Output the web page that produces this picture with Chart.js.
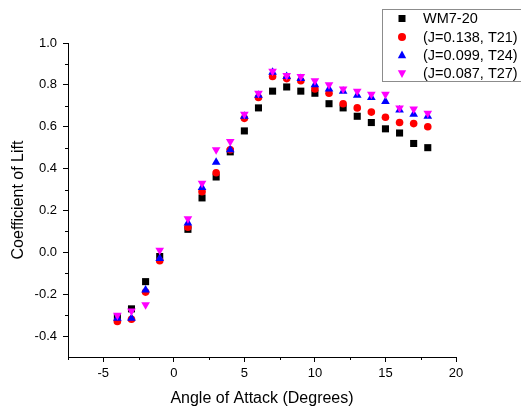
<!DOCTYPE html>
<html>
<head>
<meta charset="utf-8">
<script src="https://cdn.jsdelivr.net/npm/chart.js@4.4.0/dist/chart.umd.min.js"></script>
<style>
html, body { margin: 0; padding: 0; background: #fff; overflow: hidden; }
#wrap { width: 521px; height: 409px; }
</style>
</head>
<body>
<div id="wrap"><canvas id="liftChart" width="521" height="409"></canvas></div>
<script>
// angle of attack (degrees) - no point at 0
const angles = [-4, -3, -2, -1, 1, 2, 3, 4, 5, 6, 7, 8, 9, 10, 11, 12, 13, 14, 15, 16, 17, 18];

const wm720 = [-0.31, -0.27, -0.14, -0.02, 0.11, 0.26, 0.36, 0.48, 0.58, 0.69, 0.77, 0.79, 0.77, 0.76, 0.71, 0.69, 0.65, 0.62, 0.59, 0.57, 0.52, 0.50];
const t21 = [-0.33, -0.32, -0.19, -0.04, 0.12, 0.29, 0.38, 0.49, 0.64, 0.74, 0.84, 0.83, 0.82, 0.78, 0.76, 0.71, 0.69, 0.67, 0.645, 0.62, 0.615, 0.60];
const t24 = [-0.315, -0.315, -0.18, -0.03, 0.14, 0.31, 0.43, 0.49, 0.65, 0.75, 0.86, 0.84, 0.83, 0.80, 0.78, 0.77, 0.75, 0.74, 0.72, 0.68, 0.66, 0.65];
const t27 = [-0.30, -0.28, -0.25, 0.01, 0.16, 0.33, 0.49, 0.53, 0.66, 0.76, 0.865, 0.845, 0.84, 0.82, 0.80, 0.78, 0.77, 0.755, 0.755, 0.69, 0.685, 0.665];

const seriesNames = ['WM7-20', '(J=0.138, T21)', '(J=0.099, T24)', '(J=0.087, T27)'];

const xTicks = [-5, 0, 5, 10, 15, 20];
const xMinor = [-7.5, -2.5, 2.5, 7.5, 12.5, 17.5];
const yTicks = [-0.4, -0.2, 0.0, 0.2, 0.4, 0.6, 0.8, 1.0];
const yMinor = [-0.3, -0.1, 0.1, 0.3, 0.5, 0.7, 0.9];

const FONT = "'Liberation Sans', Arial, sans-serif";

function toPoints(vals) {
    return angles.map((a, i) => ({ x: a, y: vals[i] }));
}

// marker drawing for the legend box
function drawMarker(ctx, style, x, y, r, rot) {
    ctx.beginPath();
    if (style === 'rect') {
        ctx.rect(x - r, y - r, r * 2, r * 2);
    } else if (style === 'circle') {
        ctx.arc(x, y, r, 0, Math.PI * 2);
    } else {
        const s = rot ? -1 : 1;
        const h = r * 1.1;
        ctx.moveTo(x, y - s * h);
        ctx.lineTo(x + h * 0.95, y + s * h * 0.75);
        ctx.lineTo(x - h * 0.95, y + s * h * 0.75);
        ctx.closePath();
    }
    ctx.fill();
}

const minorTicks = {
    id: 'minorTicks',
    afterDraw(chart) {
        const { ctx, chartArea, scales: { x, y } } = chart;
        ctx.save();
        ctx.strokeStyle = '#000';
        ctx.lineWidth = 1;
        ctx.beginPath();
        xMinor.forEach(v => {
            const px = Math.round(x.getPixelForValue(v)) + 0.5;
            ctx.moveTo(px, chartArea.bottom);
            ctx.lineTo(px, chartArea.bottom + 3);
        });
        yMinor.forEach(v => {
            const py = Math.round(y.getPixelForValue(v)) + 0.5;
            ctx.moveTo(chartArea.left - 3, py);
            ctx.lineTo(chartArea.left, py);
        });
        ctx.stroke();
        ctx.restore();
    }
};

// legend box runs off the right edge, like the original
const boxLegend = {
    id: 'boxLegend',
    afterDraw(chart) {
        const ctx = chart.ctx;
        ctx.save();
        ctx.fillStyle = '#fff';
        ctx.fillRect(382, 9, 200, 73);
        ctx.strokeStyle = '#8c8c8c';
        ctx.lineWidth = 1;
        ctx.strokeRect(382.5, 9.5, 200, 72);
        const rows = [18.5, 37, 55, 73.5];
        const ds = chart.data.datasets;
        ctx.font = '14.5px ' + FONT;
        ctx.textBaseline = 'middle';
        ctx.textAlign = 'left';
        ds.forEach((d, i) => {
            ctx.fillStyle = d.backgroundColor;
            const r = d.pointStyle === 'rect' ? 3.5 : 4;
            drawMarker(ctx, d.pointStyle, 402, rows[i], r, d.pointRotation === 180);
            ctx.fillStyle = '#000';
            ctx.fillText(d.label, 423, rows[i] + 0.5);
        });
        ctx.restore();
    }
};

const liftCtx = document.getElementById('liftChart').getContext('2d');
const liftChart = new Chart(liftCtx, {
    type: 'scatter',
    data: {
        datasets: [{
            label: seriesNames[0],
            data: toPoints(wm720),
            backgroundColor: '#000000',
            pointStyle: 'rect',
            pointRadius: 5,
            pointBorderWidth: 0,
            order: 4
        }, {
            label: seriesNames[1],
            data: toPoints(t21),
            backgroundColor: '#ff0000',
            pointStyle: 'circle',
            pointRadius: 3.8,
            pointBorderWidth: 0,
            order: 3
        }, {
            label: seriesNames[2],
            data: toPoints(t24),
            backgroundColor: '#0000ff',
            pointStyle: 'triangle',
            pointRadius: 5,
            pointBorderWidth: 0,
            order: 2
        }, {
            label: seriesNames[3],
            data: toPoints(t27),
            backgroundColor: '#ff00ff',
            pointStyle: 'triangle',
            pointRotation: 180,
            pointRadius: 5,
            pointBorderWidth: 0,
            order: 1
        }]
    },
    options: {
        responsive: false,
        devicePixelRatio: 1,
        animation: false,
        layout: {
            padding: { left: 5, right: 65, top: 43, bottom: 0 }
        },
        plugins: {
            legend: { display: false },
            tooltip: { enabled: false }
        },
        scales: {
            x: {
                type: 'linear',
                min: -7.5,
                max: 20,
                afterBuildTicks: scale => { scale.ticks = xTicks.map(v => ({ value: v })); },
                afterFit: scale => { scale.height = 52; },
                grid: {
                    drawOnChartArea: false,
                    tickLength: 5,
                    tickColor: '#000'
                },
                border: { color: '#000', width: 1 },
                ticks: {
                    color: '#000',
                    font: { family: FONT, size: 13 },
                    padding: 4,
                    maxRotation: 0,
                    autoSkip: false,
                    callback: v => String(v)
                },
                title: {
                    display: true,
                    text: 'Angle of Attack (Degrees)',
                    color: '#000',
                    font: { family: FONT, size: 16 },
                    padding: { top: 4, bottom: 1 }
                }
            },
            y: {
                type: 'linear',
                min: -0.5,
                max: 1.0,
                afterBuildTicks: scale => { scale.ticks = yTicks.map(v => ({ value: v })); },
                afterFit: scale => { scale.width = 63; },
                grid: {
                    drawOnChartArea: false,
                    tickLength: 5,
                    tickColor: '#000'
                },
                border: { color: '#000', width: 1 },
                ticks: {
                    color: '#000',
                    font: { family: FONT, size: 13 },
                    padding: 6,
                    autoSkip: false,
                    callback: v => v.toFixed(1)
                },
                title: {
                    display: true,
                    text: 'Coefficient of Lift',
                    color: '#000',
                    font: { family: FONT, size: 16 },
                    padding: { top: 4, bottom: 4 }
                }
            }
        }
    },
    plugins: [minorTicks, boxLegend]
});
</script>
</body>
</html>
